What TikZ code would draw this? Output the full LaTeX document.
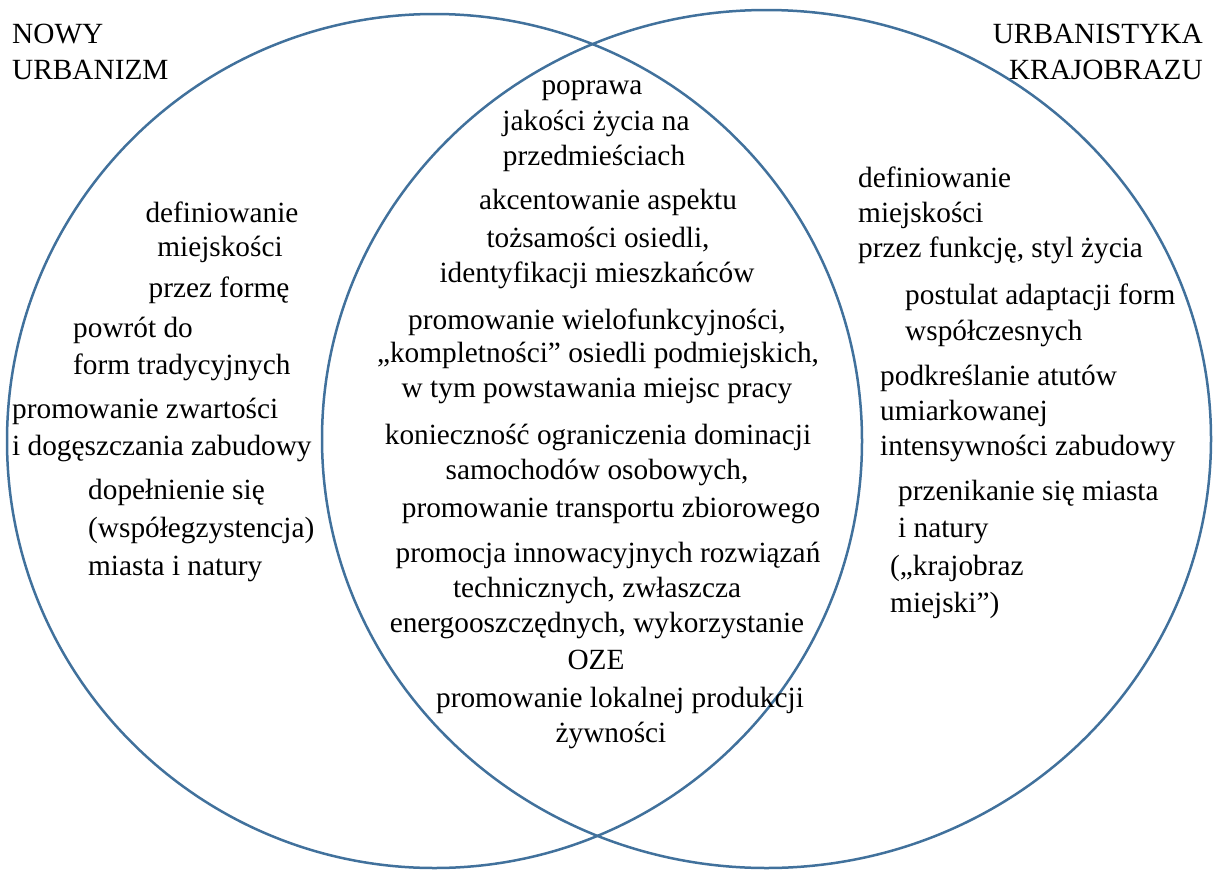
\documentclass[tikz,border=0pt]{standalone}
\usepackage{fontspec}
\setmainfont{Liberation Serif}
\usetikzlibrary{shapes.geometric}
\definecolor{vennblue}{RGB}{65,113,156}

\begin{document}
\begin{tikzpicture}[x=1pt, y=-1pt, font=\fontsize{29.3}{35.5}\selectfont]
    \tikzstyle{venn set}=[ellipse, draw=vennblue, line width=2.5pt, inner sep=0pt]
    \tikzstyle{feature}=[inner sep=0pt, anchor=base west]
    \tikzstyle{common feature}=[inner sep=0pt, anchor=base]
    \tikzstyle{set title}=[inner sep=0pt]

    \useasboundingbox (0,0) rectangle (1214,870);

    % the two sets
    \node [venn set, minimum width=855pt, minimum height=854pt] (nowy) at (434.5,441) {};
    \node [venn set, minimum width=889pt, minimum height=858pt] (krajobraz) at (766.5,439) {};

    % set titles (base = last line)
    \node [set title, anchor=base west, align=left] (nowy-title) at (12,79) {NOWY\\URBANIZM};
    \node [set title, anchor=base east, align=right] (krajobraz-title) at (1203,79) {URBANISTYKA\\KRAJOBRAZU};

    % only nowy urbanizm
    \foreach \x/\y/\txt [count=\i] in {222/222/definiowanie, 220/256/miejskości, 219/297/przez formę}
    \node [common feature] (forma-\i) at (\x,\y) {\txt};

    \foreach \x/\y/\txt [count=\i] in {73/337/powrót do, 73/374/form tradycyjnych}
    \node [feature] (tradycja-\i) at (\x,\y) {\txt};

    \foreach \x/\y/\txt [count=\i] in {12/418/promowanie zwartości, 12/455/i dogęszczania zabudowy}
    \node [feature] (zwartosc-\i) at (\x,\y) {\txt};

    \foreach \x/\y/\txt [count=\i] in {88/499/dopełnienie się, 88/537/(współegzystencja), 88/575/miasta i natury}
    \node [feature] (natura-\i) at (\x,\y) {\txt};

    % common part
    \foreach \x/\y/\txt [count=\i] in {592/94/poprawa, 596/130/jakości życia na, 594/165/przedmieściach}
    \node [common feature] (poprawa-\i) at (\x,\y) {\txt};

    \foreach \x/\y/\txt [count=\i] in {608/209/akcentowanie aspektu, 598/247/{tożsamości osiedli,}, 597/282/identyfikacji mieszkańców}
    \node [common feature] (tozsamosc-\i) at (\x,\y) {\txt};

    \foreach \x/\y/\txt [count=\i] in {597/329/{promowanie wielofunkcyjności,}, 598/362/{„kompletności” osiedli podmiejskich,}, 597/397/w tym powstawania miejsc pracy}
    \node [common feature] (wielofunkcyjnosc-\i) at (\x,\y) {\txt};

    \foreach \x/\y/\txt [count=\i] in {598/444/konieczność ograniczenia dominacji, 597/479/{samochodów osobowych,}, 611/517/promowanie transportu zbiorowego}
    \node [common feature] (transport-\i) at (\x,\y) {\txt};

    \foreach \x/\y/\txt [count=\i] in {608/562/promocja innowacyjnych rozwiązań, 597/597/{technicznych, zwłaszcza}, 597/632/{energooszczędnych, wykorzystanie}, 596/669/OZE}
    \node [common feature] (innowacje-\i) at (\x,\y) {\txt};

    \foreach \x/\y/\txt [count=\i] in {620/707/promowanie lokalnej produkcji, 611/742/żywności}
    \node [common feature] (zywnosc-\i) at (\x,\y) {\txt};

    % only urbanistyka krajobrazu
    \foreach \x/\y/\txt [count=\i] in {858/187/definiowanie, 858/222/miejskości, 858/257/{przez funkcję, styl życia}}
    \node [feature] (funkcja-\i) at (\x,\y) {\txt};

    \foreach \x/\y/\txt [count=\i] in {905/304/postulat adaptacji form, 905/340/współczesnych}
    \node [feature] (adaptacja-\i) at (\x,\y) {\txt};

    \foreach \x/\y/\txt [count=\i] in {880/385/podkreślanie atutów, 880/420/umiarkowanej, 880/455/intensywności zabudowy}
    \node [feature] (intensywnosc-\i) at (\x,\y) {\txt};

    \foreach \x/\y/\txt [count=\i] in {898/500/przenikanie się miasta, 898/537/i natury, 890/575/(„krajobraz, 890/612/miejski”)}
    \node [feature] (przenikanie-\i) at (\x,\y) {\txt};

\end{tikzpicture}
\end{document}
